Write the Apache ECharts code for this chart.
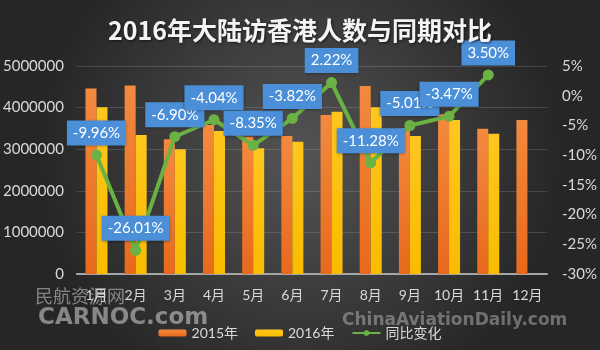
<!DOCTYPE html>
<html>
<head>
<meta charset="utf-8">
<script src="https://cdn.jsdelivr.net/npm/echarts@6/dist/echarts.min.js"></script>
<style>
html,body{margin:0;padding:0;background:#333;}
#chart{width:600px;height:350px;}
</style>
</head>
<body>
<div id="chart"></div>
<script>
var titleText = '2016年大陆访香港人数与同期对比';
var months = ['1月','2月','3月','4月','5月','6月','7月','8月','9月','10月','11月','12月'];
var seriesNames = ['2015年','2016年','同比变化'];
var visitors2015 = [4460000, 4530000, 3240000, 3580000, 3300000, 3320000, 3820000, 4520000, 3490000, 3840000, 3490000, 3700000];
var visitors2016 = [4010000, 3340000, 3000000, 3440000, 3020000, 3180000, 3900000, 4010000, 3320000, 3700000, 3370000, null];
var yoyChange = [-9.96, -26.01, -6.90, -4.04, -8.35, -3.82, 2.22, -11.28, -5.01, -3.47, 3.50, null];
var leftTicks = {min: 0, max: 5000000, interval: 1000000};
var rightTicks = {min: -30, max: 5, interval: 5};

var chart = echarts.init(document.getElementById('chart'));
var font = 'Lato, "Noto Sans CJK SC", sans-serif';
var option = {
  backgroundColor: {
    type: 'radial', x: 0.5, y: 0.45, r: 0.75,
    colorStops: [{offset: 0, color: '#545454'}, {offset: 1, color: '#262626'}]
  },
  title: {
    text: titleText, left: 'center', top: 13,
    textStyle: {color: '#f4f4f4', fontSize: 25, fontWeight: 'bold', fontFamily: '"Noto Sans CJK SC", sans-serif',
      textShadowColor: 'rgba(0,0,0,0.6)', textShadowBlur: 3, textShadowOffsetX: 1, textShadowOffsetY: 1}
  },
  grid: {left: 75, right: 52, top: 66, bottom: 76},
  legend: {
    data: seriesNames, left: 'center', top: 321, itemWidth: 28, itemHeight: 7, itemGap: 17,
    textStyle: {color: '#d9d9d9', fontSize: 14, fontFamily: font}
  },
  graphic: [
    {type: 'text', left: 35, top: 287, style: {text: '民航资源网', fill: 'rgba(210,210,210,0.55)', font: '18px "Noto Sans CJK SC"'}},
    {type: 'text', left: 38, top: 307, style: {text: 'CARNOC.com', fill: 'rgba(200,200,200,0.6)', font: 'bold 23px "DejaVu Sans"'}},
    {type: 'text', left: 342, top: 312, style: {text: 'ChinaAviationDaily.com', fill: 'rgba(200,200,200,0.45)', font: 'bold 17px "DejaVu Sans"'}}
  ],
  xAxis: {
    type: 'category', data: months,
    axisLine: {lineStyle: {color: '#a6a6a6', width: 2}},
    axisTick: {show: false},
    axisLabel: {color: '#d9d9d9', fontSize: 14, margin: 14, fontFamily: font, interval: 0}
  },
  yAxis: [
    {type: 'value', min: leftTicks.min, max: leftTicks.max, interval: leftTicks.interval,
      axisLine: {show: false}, axisTick: {show: false},
      axisLabel: {color: '#d9d9d9', fontSize: 15, margin: 13, fontFamily: font,
        formatter: function(v){ return String(v); }},
      splitLine: {lineStyle: {color: 'rgba(255,255,255,0.14)', width: 1}}},
    {type: 'value', min: rightTicks.min, max: rightTicks.max, interval: rightTicks.interval,
      axisLine: {show: false}, axisTick: {show: false},
      axisLabel: {color: '#d9d9d9', fontSize: 15, margin: 15, fontFamily: font, formatter: '{value}%'},
      splitLine: {show: false}}
  ],
  series: [
    {name: seriesNames[0], type: 'bar', data: visitors2015, barWidth: 11, barGap: '0%',
      itemStyle: {color: {type: 'linear', x: 0, y: 0, x2: 0, y2: 1,
        colorStops: [{offset: 0, color: '#f38a3e'}, {offset: 1, color: '#e8691c'}]}}},
    {name: seriesNames[1], type: 'bar', data: visitors2016, barWidth: 11,
      itemStyle: {color: {type: 'linear', x: 0, y: 0, x2: 0, y2: 1,
        colorStops: [{offset: 0, color: '#ffc61e'}, {offset: 1, color: '#f9bc00'}]}}},
    {name: seriesNames[2], type: 'line', yAxisIndex: 1, data: yoyChange,
      symbol: 'circle', symbolSize: 11, z: 5,
      lineStyle: {color: '#6bb245', width: 4},
      itemStyle: {color: '#6bb245'},
      label: {show: true, position: 'top', distance: 4,
        formatter: function(p){ return p.value.toFixed(2) + '%'; },
        color: '#ffffff', fontSize: 15, fontFamily: font,
        backgroundColor: '#4a8fd8', padding: [5, 6, 5, 6],
        shadowColor: 'rgba(0,0,0,0.4)', shadowBlur: 3, shadowOffsetY: 1}}
  ]
};
chart.setOption(option);
</script>
</body>
</html>
